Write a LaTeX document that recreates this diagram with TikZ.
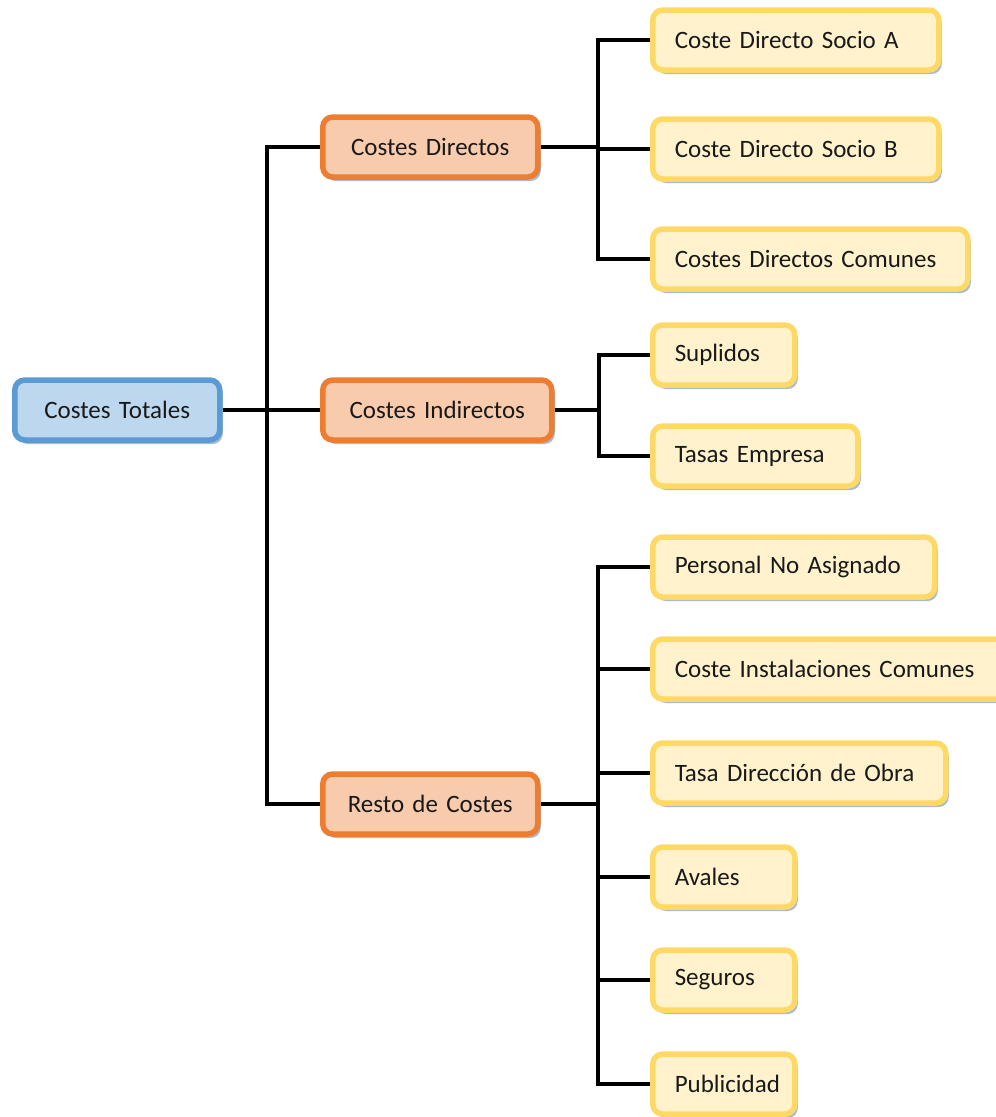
\documentclass[tikz,border=0pt]{standalone}
\usepackage{fontspec}
\setmainfont{Carlito}
\usetikzlibrary{shadows}
\definecolor{bluefill}{HTML}{BDD7EE}
\definecolor{blueline}{HTML}{5B9BD5}
\definecolor{orfill}{HTML}{F8CBAD}
\definecolor{orline}{HTML}{ED7D31}
\definecolor{yefill}{HTML}{FFF2CC}
\definecolor{yeline}{HTML}{FFD966}
\definecolor{shadowc}{HTML}{A9BBD2}
\begin{document}
\begin{tikzpicture}[x=1pt,y=-1pt,
  box/.style={rounded corners=10pt, line width=5.5pt, minimum height=60pt,
    inner xsep=22pt, inner ysep=0pt, anchor=west, font=\fontsize{25}{30}\selectfont,
    text=black!90,
    drop shadow={shadow xshift=3pt, shadow yshift=-4pt, fill=shadowc, opacity=1}},
  rootbox/.style={box, fill=bluefill, draw=blueline, align=center},
  midbox/.style={box, fill=orfill, draw=orline, align=center},
  leafbox/.style={box, fill=yefill, draw=yeline, align=left},
  conn/.style={draw=black, line width=4pt}]
\useasboundingbox (0,0) rectangle (996,1117);
% root
\node[rootbox, text width=161pt] (CT) at (12,410) {Costes Totales};
% level 1
\node[midbox, text width=171pt] (CD) at (320,147) {Costes Directos};
\node[midbox, text width=185pt] (CI) at (320,410) {Costes Indirectos};
\node[midbox, text width=171pt] (RC) at (320,804) {Resto de Costes};
% leaves
\node[leafbox, text width=242pt] (L1) at (650,40) {Coste Directo Socio A};
\node[leafbox, text width=242pt] (L2) at (650,149) {Coste Directo Socio B};
\node[leafbox, text width=271pt] (L3) at (650,259) {Costes Directos Comunes};
\node[leafbox, text width=98pt] (L4) at (650,355) {Suplidos};
\node[leafbox, text width=161pt] (L5) at (650,456) {Tasas Empresa};
\node[leafbox, text width=238pt] (L6) at (650,567) {Personal No Asignado};
\node[leafbox, text width=311pt] (L7) at (650,669) {Coste Instalaciones Comunes};
\node[leafbox, text width=249pt] (L8) at (650,773) {Tasa Dirección de Obra};
\node[leafbox, text width=98pt] (L9) at (650,877) {Avales};
\node[leafbox, text width=98pt] (L10) at (650,980) {Seguros};
\node[leafbox, text width=98pt] (L11) at (650,1084) {Publicidad};
% trunk coordinates
\coordinate (t0) at (267,0);
\coordinate (t1) at (598,0);
\coordinate (t2) at (599,0);
\coordinate (t3) at (598,0);
% root connectors
\draw[conn] (CT.east) -- (CI.west);
\draw[conn] (CD.west) -- (CD.west -| t0) -- (RC.west -| t0) -- (RC.west);
% Costes Directos
\draw[conn] (CD.east) -- (CD.east -| t1);
\draw[conn] (L1.west) -- (L1.west -| t1) -- (L3.west -| t1) -- (L3.west);
\draw[conn] (L2.west) -- (L2.west -| t1);
% Costes Indirectos
\draw[conn] (CI.east) -- (CI.east -| t2);
\draw[conn] (L4.west) -- (L4.west -| t2) -- (L5.west -| t2) -- (L5.west);
% Resto
\draw[conn] (RC.east) -- (RC.east -| t3);
\draw[conn] (L6.west) -- (L6.west -| t3) -- (L11.west -| t3) -- (L11.west);
\draw[conn] (L7.west) -- (L7.west -| t3);
\draw[conn] (L8.west) -- (L8.west -| t3);
\draw[conn] (L9.west) -- (L9.west -| t3);
\draw[conn] (L10.west) -- (L10.west -| t3);
\end{tikzpicture}
\end{document}
